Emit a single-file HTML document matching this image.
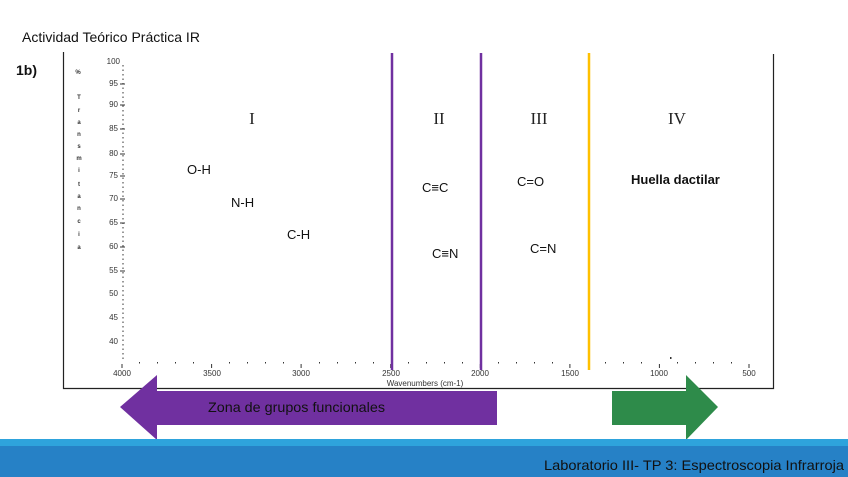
<!DOCTYPE html>
<html><head><meta charset="utf-8"><style>
body{margin:0;width:848px;height:477px;overflow:hidden;background:#fff}
svg{display:block}
</style></head><body>
<svg width="848" height="477" viewBox="0 0 848 477" xmlns="http://www.w3.org/2000/svg" font-family="Liberation Sans, sans-serif">
<text x="22" y="42" font-size="14" fill="#111">Actividad Teórico Práctica IR</text>
<text x="16" y="75" font-size="14" font-weight="bold" fill="#111">1b)</text>
<path d="M63.5 52 V388.5 H773.5 V54" fill="none" stroke="#222" stroke-width="1.2"/>
<g font-size="6" font-weight="bold" fill="#333" text-anchor="middle">
<text x="78" y="74">%</text>
<text x="79" y="99">T</text><text x="79" y="112">r</text><text x="79" y="124">a</text><text x="79" y="136">n</text><text x="79" y="148">s</text><text x="79" y="160">m</text><text x="79" y="172">i</text><text x="79" y="186">t</text><text x="79" y="198">a</text><text x="79" y="210">n</text><text x="79" y="223">c</text><text x="79" y="236">i</text><text x="79" y="249">a</text>
</g>
<g font-size="8" fill="#333" text-anchor="end">
<text x="120" y="64">100</text><text x="118" y="86">95</text><text x="118" y="107">90</text><text x="118" y="131">85</text><text x="118" y="156">80</text><text x="118" y="178">75</text><text x="118" y="201">70</text><text x="118" y="225">65</text><text x="118" y="249">60</text><text x="118" y="273">55</text><text x="118" y="296">50</text><text x="118" y="320">45</text><text x="118" y="344">40</text>
</g>
<g stroke="#333" stroke-width="1">
<line x1="123" y1="65" x2="123" y2="360" stroke-dasharray="1.5 3"/>
<line x1="120" y1="84" x2="125" y2="84"/><line x1="120" y1="105" x2="125" y2="105"/><line x1="120" y1="129" x2="125" y2="129"/><line x1="120" y1="154" x2="125" y2="154"/><line x1="120" y1="176" x2="125" y2="176"/><line x1="120" y1="199" x2="125" y2="199"/><line x1="120" y1="223" x2="125" y2="223"/><line x1="120" y1="247" x2="125" y2="247"/><line x1="120" y1="271" x2="125" y2="271"/>
</g>
<g stroke="#333" stroke-width="1">
<line x1="122" y1="364" x2="122" y2="368"/><line x1="211.6" y1="364" x2="211.6" y2="368"/><line x1="301.1" y1="364" x2="301.1" y2="368"/><line x1="390.7" y1="364" x2="390.7" y2="368"/><line x1="480.3" y1="364" x2="480.3" y2="368"/><line x1="569.9" y1="364" x2="569.9" y2="368"/><line x1="659.4" y1="364" x2="659.4" y2="368"/><line x1="749" y1="364" x2="749" y2="368"/>
</g>
<g fill="#333"><rect x="139" y="362" width="1" height="1.5"/><rect x="157" y="362" width="1" height="1.5"/><rect x="175" y="362" width="1" height="1.5"/><rect x="193" y="362" width="1" height="1.5"/><rect x="229" y="362" width="1" height="1.5"/><rect x="247" y="362" width="1" height="1.5"/><rect x="265" y="362" width="1" height="1.5"/><rect x="283" y="362" width="1" height="1.5"/><rect x="319" y="362" width="1" height="1.5"/><rect x="337" y="362" width="1" height="1.5"/><rect x="355" y="362" width="1" height="1.5"/><rect x="373" y="362" width="1" height="1.5"/><rect x="408" y="362" width="1" height="1.5"/><rect x="426" y="362" width="1" height="1.5"/><rect x="444" y="362" width="1" height="1.5"/><rect x="462" y="362" width="1" height="1.5"/><rect x="498" y="362" width="1" height="1.5"/><rect x="516" y="362" width="1" height="1.5"/><rect x="534" y="362" width="1" height="1.5"/><rect x="552" y="362" width="1" height="1.5"/><rect x="605" y="362" width="1" height="1.5"/><rect x="623" y="362" width="1" height="1.5"/><rect x="641" y="362" width="1" height="1.5"/><rect x="677" y="362" width="1" height="1.5"/><rect x="695" y="362" width="1" height="1.5"/><rect x="713" y="362" width="1" height="1.5"/><rect x="731" y="362" width="1" height="1.5"/><rect x="670" y="357" width="1.5" height="2"/></g>
<g font-size="8" fill="#333" text-anchor="middle">
<text x="122" y="376">4000</text><text x="212" y="376">3500</text><text x="301" y="376">3000</text><text x="391" y="376">2500</text><text x="480" y="376">2000</text><text x="570" y="376">1500</text><text x="659" y="376">1000</text><text x="749" y="376">500</text>
<text x="425" y="386">Wavenumbers (cm-1)</text>
</g>
<line x1="392" y1="53" x2="392" y2="370" stroke="#7030a0" stroke-width="2.5"/>
<line x1="481" y1="53" x2="481" y2="370" stroke="#7030a0" stroke-width="2.5"/>
<line x1="589" y1="53" x2="589" y2="370" stroke="#ffc000" stroke-width="2.5"/>
<g font-family="Liberation Serif, serif" font-size="17" fill="#222" text-anchor="middle">
<text x="252" y="124">I</text><text x="439" y="124">II</text><text x="539" y="124">III</text><text x="677" y="124">IV</text>
</g>
<g font-size="13" fill="#111">
<text x="187" y="174">O-H</text><text x="231" y="207">N-H</text><text x="287" y="239">C-H</text>
<text x="422" y="192">C≡C</text><text x="432" y="258">C≡N</text>
<text x="517" y="186">C=O</text><text x="530" y="253">C=N</text>
<text x="631" y="184" font-weight="bold">Huella dactilar</text>
</g>
<polygon points="120,407 157,375 157,391 497,391 497,425 157,425 157,440" fill="#7030a0"/>
<text x="208" y="412" font-size="14" fill="#111" textLength="177" lengthAdjust="spacingAndGlyphs">Zona de grupos funcionales</text>
<polygon points="612,391 686,391 686,375 718,407 686,440 686,425 612,425" fill="#2e8b4a"/>
<rect x="0" y="439" width="848" height="7" fill="#2ea3dc"/>
<rect x="0" y="446" width="848" height="31" fill="#2681c6"/>
<text x="544" y="470" font-size="14" fill="#111" textLength="300" lengthAdjust="spacingAndGlyphs">Laboratorio III- TP 3: Espectroscopia Infrarroja</text>
</svg>
</body></html>
